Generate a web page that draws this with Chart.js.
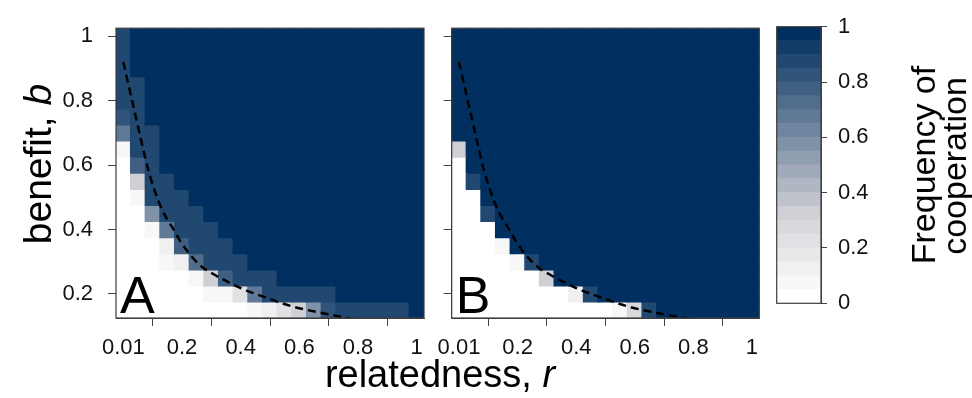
<!DOCTYPE html>
<html>
<head>
<meta charset="utf-8">
<script src="https://cdn.jsdelivr.net/npm/chart.js@4.4.1/dist/chart.umd.min.js"></script>
<style>
  html, body { margin: 0; padding: 0; background: #fff; }
  #wrap { position: relative; width: 972px; height: 398px; }
  #wrap canvas { position: absolute; left: 0; top: 0; }
</style>
</head>
<body>
<div id="wrap">
  <canvas id="panelA" width="972" height="398"></canvas>
  <canvas id="panelB" width="972" height="398"></canvas>
  <canvas id="cbar" width="972" height="398"></canvas>
</div>
<script>
// relatedness r (one column each), benefit b (one row each, top row first)
const rLabels = ['0.01','0.05','0.1','0.15','0.2','0.25','0.3','0.35','0.4','0.45','0.5',
                 '0.55','0.6','0.65','0.7','0.75','0.8','0.85','0.9','0.95','1'];
const bValues = [1.0,0.95,0.9,0.85,0.8,0.75,0.7,0.65,0.6,0.55,0.5,0.45,0.4,0.35,0.3,0.25,0.2,0.15];

const rTickIdx = [0, 4, 8, 12, 16, 20];
const rTickLabels = ['0.01', '0.2', '0.4', '0.6', '0.8', '1'];
const bTicks = [0.2, 0.4, 0.6, 0.8, 1];
const bTickLabels = ['0.2', '0.4', '0.6', '0.8', '1'];
const cbarTicks = [0, 0.2, 0.4, 0.6, 0.8, 1];
const cbarTickLabels = ['0', '0.2', '0.4', '0.6', '0.8', '1'];
const cbarBreaks = [0,0.05,0.1,0.15,0.2,0.25,0.3,0.35,0.4,0.45,0.5,0.55,0.6,0.65,0.7,0.75,0.8,0.85,0.9,0.95,1];

// dashed threshold curve (r position, b)
const curveR = [0, 0.02, 0.05, 0.085, 0.127, 0.175, 0.2, 0.26, 0.31, 0.4, 0.5, 0.58, 0.68, 0.76, 0.8];
const curveB = [0.92, 0.84, 0.72, 0.585, 0.472, 0.394, 0.355, 0.29, 0.26, 0.218, 0.184, 0.16, 0.14, 0.126, 0.12];

// frequency of cooperation, panel A (rows follow bValues)
const coopA = [
  [0.87,1,1,1,1,1,1,1,1,1,1,1,1,1,1,1,1,1,1,1,1],
  [0.87,1,1,1,1,1,1,1,1,1,1,1,1,1,1,1,1,1,1,1,1],
  [0.87,1,1,1,1,1,1,1,1,1,1,1,1,1,1,1,1,1,1,1,1],
  [0.87,0.87,1,1,1,1,1,1,1,1,1,1,1,1,1,1,1,1,1,1,1],
  [0.87,0.87,1,1,1,1,1,1,1,1,1,1,1,1,1,1,1,1,1,1,1],
  [0.82,0.87,1,1,1,1,1,1,1,1,1,1,1,1,1,1,1,1,1,1,1],
  [0.68,0.87,0.87,1,1,1,1,1,1,1,1,1,1,1,1,1,1,1,1,1,1],
  [0.07,0.87,0.87,1,1,1,1,1,1,1,1,1,1,1,1,1,1,1,1,1,1],
  [0,0.78,0.87,1,1,1,1,1,1,1,1,1,1,1,1,1,1,1,1,1,1],
  [0,0.32,0.87,0.87,1,1,1,1,1,1,1,1,1,1,1,1,1,1,1,1,1],
  [0,0.07,0.87,0.87,0.87,1,1,1,1,1,1,1,1,1,1,1,1,1,1,1,1],
  [0,0,0.55,0.87,0.87,0.87,1,1,1,1,1,1,1,1,1,1,1,1,1,1,1],
  [0,0,0.07,0.68,0.87,0.87,0.87,1,1,1,1,1,1,1,1,1,1,1,1,1,1],
  [0,0,0,0.1,0.78,0.87,0.87,0.87,1,1,1,1,1,1,1,1,1,1,1,1,1],
  [0,0,0,0.08,0.1,0.72,0.87,0.87,0.87,1,1,1,1,1,1,1,1,1,1,1,1],
  [0,0,0,0,0,0.07,0.32,0.78,0.87,0.87,0.87,1,1,1,1,1,1,1,1,1,1],
  [0,0,0,0,0,0,0.07,0.07,0.22,0.68,0.87,0.87,0.87,0.87,0.87,1,1,1,1,1,1],
  [0,0,0,0,0,0,0,0,0.03,0.07,0.1,0.2,0.3,0.55,0.8,0.87,0.87,0.87,0.87,0.87,1]
];

// frequency of cooperation, panel B
const coopB = [
  [1,1,1,1,1,1,1,1,1,1,1,1,1,1,1,1,1,1,1,1,1],
  [1,1,1,1,1,1,1,1,1,1,1,1,1,1,1,1,1,1,1,1,1],
  [1,1,1,1,1,1,1,1,1,1,1,1,1,1,1,1,1,1,1,1,1],
  [1,1,1,1,1,1,1,1,1,1,1,1,1,1,1,1,1,1,1,1,1],
  [1,1,1,1,1,1,1,1,1,1,1,1,1,1,1,1,1,1,1,1,1],
  [1,1,1,1,1,1,1,1,1,1,1,1,1,1,1,1,1,1,1,1,1],
  [1,1,1,1,1,1,1,1,1,1,1,1,1,1,1,1,1,1,1,1,1],
  [0.32,1,1,1,1,1,1,1,1,1,1,1,1,1,1,1,1,1,1,1,1],
  [0,1,1,1,1,1,1,1,1,1,1,1,1,1,1,1,1,1,1,1,1],
  [0,0.87,1,1,1,1,1,1,1,1,1,1,1,1,1,1,1,1,1,1,1],
  [0,0,1,1,1,1,1,1,1,1,1,1,1,1,1,1,1,1,1,1,1],
  [0,0,0.87,1,1,1,1,1,1,1,1,1,1,1,1,1,1,1,1,1,1],
  [0,0,0,1,1,1,1,1,1,1,1,1,1,1,1,1,1,1,1,1,1],
  [0,0,0,0.07,1,1,1,1,1,1,1,1,1,1,1,1,1,1,1,1,1],
  [0,0,0,0,0.07,0.87,1,1,1,1,1,1,1,1,1,1,1,1,1,1,1],
  [0,0,0,0,0,0,0.32,1,1,1,1,1,1,1,1,1,1,1,1,1,1],
  [0,0,0,0,0,0,0,0,0.12,0.87,1,1,1,1,1,1,1,1,1,1,1],
  [0,0,0,0,0,0,0,0,0,0,0,0.07,0.25,0.87,1,1,1,1,1,1,1]
];

const FONT = '"Liberation Sans", Arial, Helvetica, sans-serif';
Chart.defaults.font.family = FONT;
Chart.defaults.font.size = 22;
Chart.defaults.color = '#111';

// white -> light grey -> navy, cut into 20 bands
const palStops = [[0, [255, 255, 255]], [0.3, [212, 211, 216]], [1, [1, 47, 95]]];
function bandColor(k) {
  const t = k / 19;
  let i = 0;
  while (i < palStops.length - 2 && t > palStops[i + 1][0]) i++;
  const [t0, c0] = palStops[i], [t1, c1] = palStops[i + 1];
  const f = (t - t0) / (t1 - t0);
  const c = c0.map((v, j) => Math.round(v + (c1[j] - v) * f));
  return 'rgb(' + c.join(',') + ')';
}
function cellColor(v) {
  return bandColor(Math.min(19, Math.floor(v * 20 + 1e-9)));
}

// box round the plot area, plus the panel letter
const framePlugin = {
  id: 'frame',
  afterDatasetsDraw(chart, args, opts) {
    const { ctx, chartArea: a } = chart;
    ctx.save();
    ctx.strokeStyle = '#3c3c3c';
    ctx.lineWidth = 1.2;
    ctx.strokeRect(a.left, a.top, a.width, a.height);
    if (opts.letter) {
      ctx.fillStyle = '#000';
      ctx.font = '52px ' + FONT;
      ctx.textBaseline = 'alphabetic';
      ctx.fillText(opts.letter, a.left + 4, a.bottom - 5);
    }
    ctx.restore();
  }
};

function drawParts(ctx, parts, x, y, size) {
  const fonts = parts.map(p => (p[1] ? 'italic ' : '') + size + 'px ' + FONT);
  const widths = parts.map((p, i) => { ctx.font = fonts[i]; return ctx.measureText(p[0]).width; });
  let cx = x - widths.reduce((s, w) => s + w, 0) / 2;
  parts.forEach((p, i) => { ctx.font = fonts[i]; ctx.fillText(p[0], cx, y); cx += widths[i]; });
}

const titlesPlugin = {
  id: 'titles',
  afterDraw(chart) {
    const ctx = chart.ctx;
    ctx.save();
    ctx.fillStyle = '#000';
    ctx.textBaseline = 'alphabetic';
    drawParts(ctx, [['relatedness, ', false], ['r', true]], 440, 387, 38);
    ctx.save();
    ctx.translate(51, 164);
    ctx.rotate(-Math.PI / 2);
    drawParts(ctx, [['benefit, ', false], ['b', true]], 0, 0, 39);
    ctx.restore();
    ctx.save();
    ctx.translate(935, 165);
    ctx.rotate(-Math.PI / 2);
    drawParts(ctx, [['Frequency of', false]], 0, 0, 34);
    ctx.restore();
    ctx.save();
    ctx.translate(966, 166);
    ctx.rotate(-Math.PI / 2);
    drawParts(ctx, [['cooperation', false]], 0, 0, 34);
    ctx.restore();
    ctx.restore();
  }
};

function panelConfig(matrix, letter, padLeft, padRight, yLabels) {
  const datasets = bValues.map((b, i) => ({
    type: 'bar',
    data: matrix[i].map((v, c) => ({ x: c, y: [b - 0.025, b + 0.025] })),
    backgroundColor: matrix[i].map(cellColor),
    borderWidth: 0,
    inflateAmount: 0.7,
    barPercentage: 1,
    categoryPercentage: 1,
    grouped: false,
    order: 1
  }));
  datasets.push({
    type: 'line',
    data: curveR.map((r, i) => ({ x: r * 20, y: curveB[i] })),
    borderColor: '#000',
    borderWidth: 2.5,
    borderDash: [8, 5],
    pointRadius: 0,
    fill: false,
    cubicInterpolationMode: 'monotone',
    order: 0
  });
  return {
    type: 'bar',
    data: { datasets },
    plugins: [framePlugin],
    options: {
      responsive: false,
      animation: false,
      layout: { padding: { left: padLeft, right: padRight, top: 11, bottom: 0 } },
      plugins: { legend: { display: false }, tooltip: { enabled: false }, frame: { letter } },
      scales: {
        x: {
          type: 'linear', min: -0.5, max: 20.5, offset: false,
          afterBuildTicks: s => { s.ticks = rTickIdx.map(v => ({ value: v })); },
          afterFit: s => { s.height = 80; },
          ticks: {
            callback: v => rTickLabels[rTickIdx.indexOf(v)],
            maxRotation: 0, autoSkip: false, padding: 9
          },
          grid: { drawOnChartArea: false, drawTicks: true, tickLength: 8, color: '#444' },
          border: { display: true, color: '#444' }
        },
        y: {
          type: 'linear', min: 0.125, max: 1.025,
          afterBuildTicks: s => { s.ticks = bTicks.map(v => ({ value: v })); },
          afterFit: s => { s.width = 116; },
          ticks: {
            callback: v => yLabels ? bTickLabels[bTicks.indexOf(v)] : '',
            padding: 15
          },
          grid: { drawOnChartArea: false, drawTicks: true, tickLength: 8, color: '#444' },
          border: { display: true, color: '#444' }
        }
      }
    }
  };
}

new Chart(document.getElementById('panelA'), panelConfig(coopA, 'A', 0, 972 - 424, true));
new Chart(document.getElementById('panelB'), panelConfig(coopB, 'B', 451.7 - 116, 972 - 759.3, false));

new Chart(document.getElementById('cbar'), {
  type: 'bar',
  data: {
    labels: [''],
    datasets: cbarBreaks.slice(0, -1).map((lo, k) => ({
      data: [[lo, cbarBreaks[k + 1]]],
      backgroundColor: bandColor(k),
      borderWidth: 0,
      inflateAmount: 0.5,
      barPercentage: 1,
      categoryPercentage: 1,
      grouped: false
    }))
  },
  plugins: [framePlugin, titlesPlugin],
  options: {
    responsive: false,
    animation: false,
    layout: { padding: { left: 776.7, right: 0, top: 26.7, bottom: 94.7 } },
    plugins: { legend: { display: false }, tooltip: { enabled: false }, frame: {} },
    scales: {
      x: { display: false },
      y: {
        position: 'right', min: 0, max: 1,
        afterBuildTicks: s => { s.ticks = cbarTicks.map(v => ({ value: v })); },
        afterFit: s => { s.width = 151; },
        ticks: { callback: v => cbarTickLabels[cbarTicks.indexOf(v)], padding: 11 },
        grid: { drawOnChartArea: false, drawTicks: true, tickLength: 6, color: '#444' },
        border: { display: true, color: '#444' }
      }
    }
  }
});
</script>
</body>
</html>
